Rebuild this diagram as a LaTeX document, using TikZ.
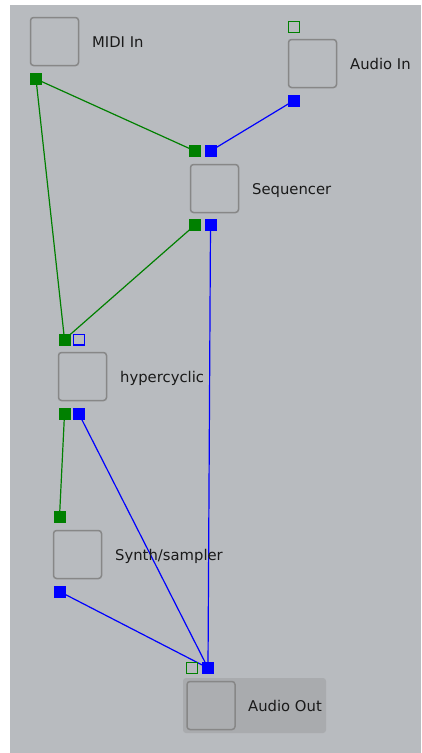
\documentclass[tikz,border=0pt]{standalone}
\usepackage{fontspec}
\setmainfont{DejaVu Sans}
\pgfdeclarelayer{bg}
\pgfdeclarelayer{wires}
\pgfsetlayers{bg,wires,main}
\definecolor{panelbg}{HTML}{B8BBBF}
\definecolor{outpanel}{HTML}{A9ABAE}
\definecolor{boxline}{HTML}{878787}
\definecolor{midigreen}{HTML}{008000}
\definecolor{audioblue}{HTML}{0000FF}
\definecolor{labeltext}{HTML}{1A1A1A}
\tikzset{
  modbox/.style={draw=boxline, line width=1.5pt, rounded corners=3pt, minimum size=48pt, inner sep=0pt, outer sep=0pt},
  gport/.style={fill=midigreen, minimum size=12pt, inner sep=0pt, outer sep=0pt},
  bport/.style={fill=audioblue, minimum size=12pt, inner sep=0pt, outer sep=0pt},
  gportempty/.style={draw=midigreen, line width=1.3pt, minimum size=10.7pt, inner sep=0pt, outer sep=0pt},
  bportempty/.style={draw=audioblue, line width=1.3pt, minimum size=10.7pt, inner sep=0pt, outer sep=0pt},
  modlabel/.style={anchor=base west, inner sep=0pt, text=labeltext, font=\fontsize{14.8}{17}\selectfont},
  gwire/.style={draw=midigreen, line width=1.2pt},
  bwire/.style={draw=audioblue, line width=1.2pt}
}
\begin{document}
\begin{tikzpicture}[x=1pt, y=-1pt]
\useasboundingbox (0,0) rectangle (421,753);
\begin{pgfonlayer}{bg}
  \fill[panelbg] (10,5) rectangle (421,753);
  \fill[outpanel, rounded corners=3pt] (183,678) rectangle (326,733);
\end{pgfonlayer}

% MIDI In
\node[modbox] (midibox) at (54.5,41.5) {};
\node[modlabel] (midilbl) at (92,47.5) {MIDI In};
\node[gport] (midiout) at (36,79) {};

% Audio In
\node[gportempty] (ainin) at (294,27) {};
\node[modbox] (ainbox) at (312.5,63.5) {};
\node[modlabel] (ainlbl) at (350,69) {Audio In};
\node[bport] (ainout) at (294,100.5) {};

% Sequencer
\node[gport] (seqgin) at (195,151) {};
\node[bport] (seqbin) at (210.5,151) {};
\node[modbox] (seqbox) at (214.5,188.5) {};
\node[modlabel] (seqlbl) at (252,194.5) {Sequencer};
\node[gport] (seqgout) at (195,225) {};
\node[bport] (seqbout) at (210.5,225) {};

% hypercyclic
\node[gport] (hypgin) at (64.5,339.5) {};
\node[bportempty] (hypbin) at (79,339.5) {};
\node[modbox] (hypbox) at (82.5,376.5) {};
\node[modlabel] (hyplbl) at (120,382.5) {hypercyclic};
\node[gport] (hypgout) at (64.5,414) {};
\node[bport] (hypbout) at (79,414) {};

% Synth/sampler
\node[gport] (syngin) at (59.5,517) {};
\node[modbox] (synbox) at (77.5,554.5) {};
\node[modlabel] (synlbl) at (115,560) {Synth/sampler};
\node[bport] (synbout) at (59.5,591.5) {};

% Audio Out
\node[gportempty] (aoutgin) at (192,668) {};
\node[bport] (aoutbin) at (208,668) {};
\node[modbox, fill=outpanel!96!white] (aoutbox) at (211,705.5) {};
\node[modlabel] (aoutlbl) at (248,711) {Audio Out};

\begin{pgfonlayer}{wires}
  \draw[gwire] (midiout.center) -- (seqgin.center);
  \draw[gwire] (midiout.center) -- (hypgin.center);
  \draw[bwire] (ainout.center) -- (seqbin.center);
  \draw[gwire] (seqgout.center) -- (hypgin.center);
  \draw[bwire] (seqbout.center) -- (aoutbin.center);
  \draw[gwire] (hypgout.center) -- (syngin.center);
  \draw[bwire] (hypbout.center) -- (aoutbin.center);
  \draw[bwire] (synbout.center) -- (aoutbin.center);
\end{pgfonlayer}
\end{tikzpicture}
\end{document}
